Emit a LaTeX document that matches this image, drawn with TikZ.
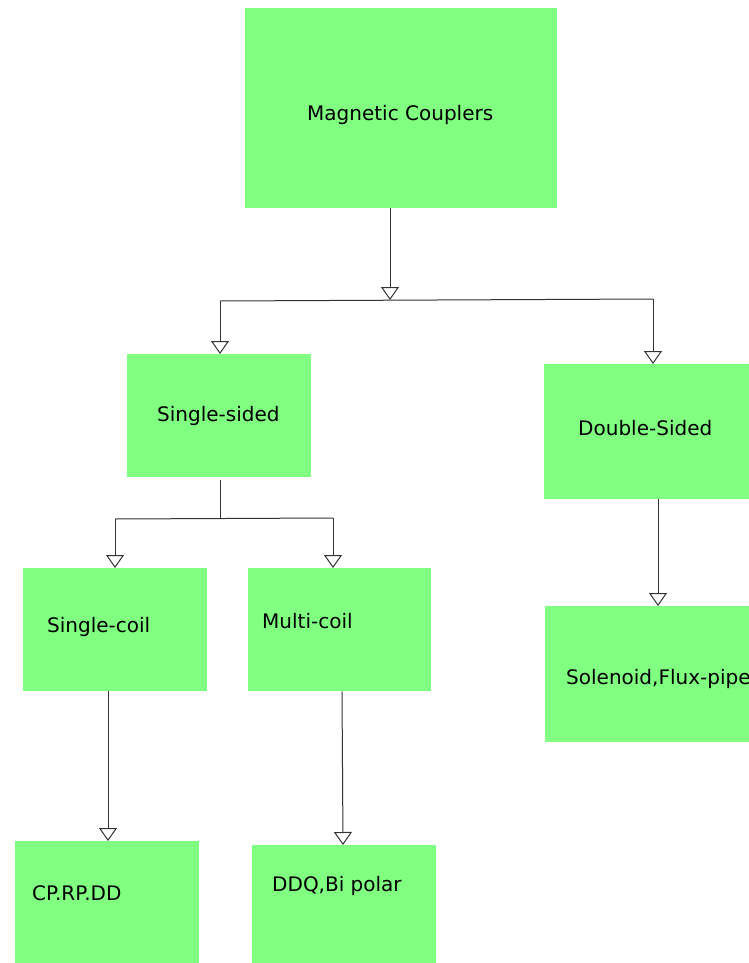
\documentclass[tikz,border=0pt]{standalone}
\usepackage{fontspec}
\setmainfont{DejaVu Sans}
\usetikzlibrary{arrows.meta,calc}
\definecolor{boxgreen}{HTML}{80FF80}
\definecolor{linegray}{HTML}{333333}
\begin{document}
\begin{tikzpicture}[x=1pt,y=-1pt,
  box/.style={fill=boxgreen,draw=none,inner sep=0pt,anchor=north west},
  lbl/.style={anchor=base west,inner sep=0pt,font=\fontsize{20}{24}\selectfont},
  conn/.style={draw=linegray,line width=1pt},
  arr/.style={conn,-{Triangle[open,length=13pt,width=18pt]}}]
\useasboundingbox (0,0) rectangle (749,963);
\clip (0,0) rectangle (749,963);
% boxes
\node[box,minimum width=312pt,minimum height=200pt] (mc) at (245,8) {};
\node[box,minimum width=184pt,minimum height=123pt] (ss) at (127,354) {};
\node[box,minimum width=215pt,minimum height=135pt] (ds) at (544,364) {};
\node[box,minimum width=184pt,minimum height=123pt] (sc) at (23,568) {};
\node[box,minimum width=183pt,minimum height=123pt] (mcl) at (248,568) {};
\node[box,minimum width=215pt,minimum height=136pt] (sol) at (545,606) {};
\node[box,minimum width=184pt,minimum height=122pt] (cp) at (15,841) {};
\node[box,minimum width=184pt,minimum height=118pt] (ddq) at (252,845) {};
% labels
\node[lbl] (tmc) at (307,121) {Magnetic Couplers};
\node[lbl] (tss) at (157,421) {Single-sided};
\node[lbl] (tds) at (578,435) {Double-Sided};
\node[lbl] (tsc) at (47,632) {Single-coil};
\node[lbl] (tmcl) at (262,628) {Multi-coil};
\node[lbl] (tsol) at (566,684) {Solenoid,Flux-pipe};
\node[lbl] (tcp) at (32,900) {CP.RP.DD};
\node[lbl] (tddq) at (272,891) {DDQ,Bi polar};
% junctions
\coordinate (j1) at (390,300);
\coordinate (j1l) at (220,301);
\coordinate (j1r) at (653,299);
\coordinate (j2) at (220,518.5);
\coordinate (j2l) at (115,519);
\coordinate (j2r) at (333,518);
% connectors
\draw[arr] (mc.south -| j1) -- (j1);
\draw[conn] (j1l) -- (j1r);
\draw[arr] (j1l) -- (j1l |- ss.north);
\draw[arr] (j1r) -- (j1r |- ds.north);
\draw[conn] ($(ss.south -| j2)+(0,3)$) -- (j2);
\draw[conn] (j2l) -- (j2r);
\draw[arr] (j2l) -- (j2l |- sc.north);
\draw[arr] (j2r) -- (j2r |- mcl.north);
\draw[arr] (ds.south -| 658,0) -- (sol.north -| 658,0);
\draw[arr] (sc.south -| 108,0) -- (cp.north -| 108,0);
\draw[arr] (mcl.south -| 342,0) -- (ddq.north -| 343,0);
\end{tikzpicture}
\end{document}
